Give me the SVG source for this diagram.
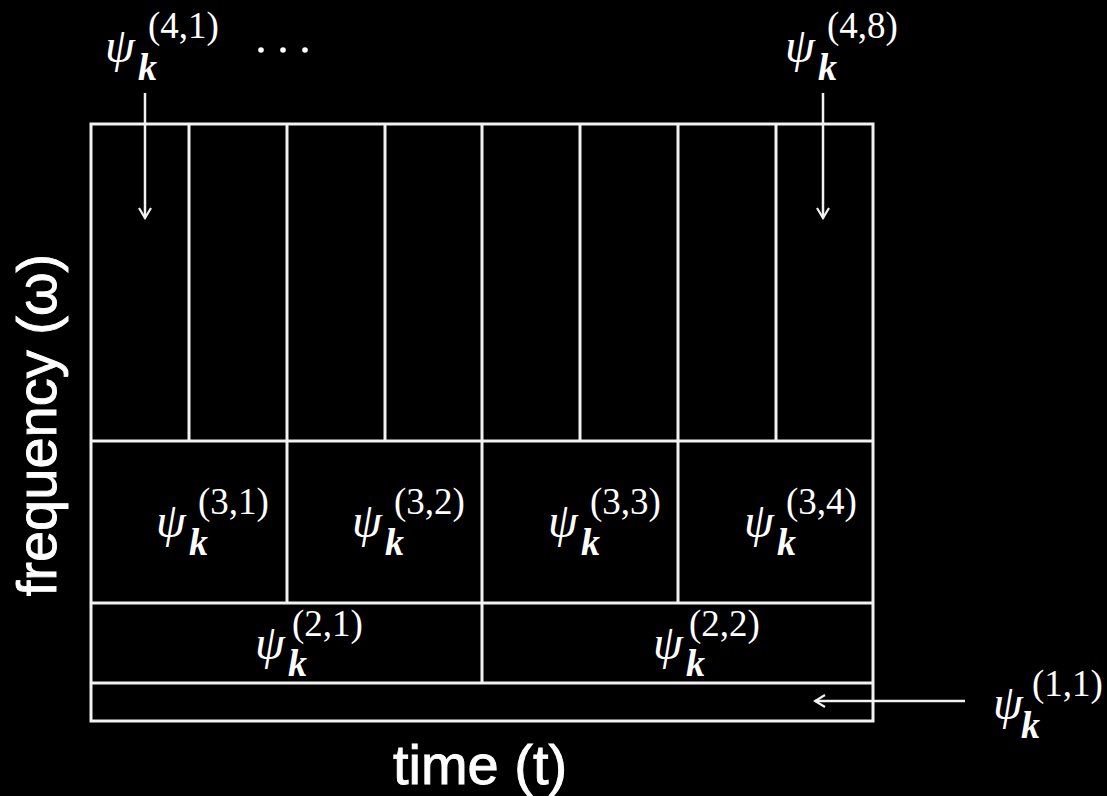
<svg xmlns="http://www.w3.org/2000/svg" width="1107" height="796" viewBox="0 0 1107 796">
<defs>
<style>
.ln{stroke:#f2f2f2;stroke-width:3;fill:none}
.ar{stroke:#f2f2f2;stroke-width:2.5;fill:none}
.psi{font-family:"Liberation Serif",serif;font-style:italic;font-size:48px;fill:#fff}
.k{font-family:"Liberation Serif",serif;font-style:italic;font-weight:bold;font-size:38px;fill:#fff}
.sup{font-family:"Liberation Serif",serif;font-size:37px;fill:#fff}
.ax{font-family:"Liberation Sans",Arial,sans-serif;font-size:56px;fill:#fff;stroke:#fff;stroke-width:0.9}
</style>
<marker id="arr" viewBox="0 0 14 14" refX="12" refY="7" markerWidth="14" markerHeight="14" markerUnits="userSpaceOnUse" orient="auto">
<path d="M2,1 L12,7 L2,13" fill="none" stroke="#f2f2f2" stroke-width="2.2"/>
</marker>
</defs>
<rect width="1107" height="796" fill="#000"/>
<g id="grid">
<rect class="ln" x="91" y="124" width="782" height="597"/>
<line class="ln" x1="91" y1="441" x2="873" y2="441"/>
<line class="ln" x1="91" y1="603" x2="873" y2="603"/>
<line class="ln" x1="91" y1="683" x2="873" y2="683"/>
<line class="ln" x1="189" y1="124" x2="189" y2="441"/>
<line class="ln" x1="287" y1="124" x2="287" y2="603"/>
<line class="ln" x1="385" y1="124" x2="385" y2="441"/>
<line class="ln" x1="482" y1="124" x2="482" y2="683"/>
<line class="ln" x1="580" y1="124" x2="580" y2="441"/>
<line class="ln" x1="678" y1="124" x2="678" y2="603"/>
<line class="ln" x1="776" y1="124" x2="776" y2="441"/>
</g>
<g id="connectors">
<line class="ar" x1="145" y1="93" x2="145" y2="218" marker-end="url(#arr)"/>
<line class="ar" x1="823" y1="93" x2="823" y2="218" marker-end="url(#arr)"/>
<line class="ar" x1="965" y1="701" x2="815" y2="701" marker-end="url(#arr)"/>
</g>
<g id="label-4-1"><text class="psi" x="105" y="62">ψ</text><text class="k" x="138" y="80">k</text><text class="sup" x="148" y="38">(4,1)</text></g>
<g id="dots" fill="#fff"><circle cx="261" cy="50" r="2.8"/><circle cx="283" cy="50" r="2.8"/><circle cx="305" cy="50" r="2.8"/></g>
<g id="label-4-8"><text class="psi" x="785" y="62">ψ</text><text class="k" x="818" y="80">k</text><text class="sup" x="827" y="38">(4,8)</text></g>
<g id="label-3-1"><text class="psi" x="156" y="537">ψ</text><text class="k" x="189" y="555">k</text><text class="sup" x="198" y="514">(3,1)</text></g>
<g id="label-3-2"><text class="psi" x="352" y="537">ψ</text><text class="k" x="385" y="555">k</text><text class="sup" x="394" y="514">(3,2)</text></g>
<g id="label-3-3"><text class="psi" x="548" y="537">ψ</text><text class="k" x="581" y="555">k</text><text class="sup" x="590" y="514">(3,3)</text></g>
<g id="label-3-4"><text class="psi" x="744" y="537">ψ</text><text class="k" x="777" y="555">k</text><text class="sup" x="786" y="514">(3,4)</text></g>
<g id="label-2-1"><text class="psi" x="255" y="659">ψ</text><text class="k" x="288" y="676">k</text><text class="sup" x="292" y="636">(2,1)</text></g>
<g id="label-2-2"><text class="psi" x="653" y="659">ψ</text><text class="k" x="686" y="676">k</text><text class="sup" x="689" y="636">(2,2)</text></g>
<g id="label-1-1"><text class="psi" x="993" y="719">ψ</text><text class="k" x="1021" y="738">k</text><text class="sup" x="1032" y="696">(1,1)</text></g>
<text class="ax" x="480" y="784" text-anchor="middle">time (t)</text>
<text class="ax" transform="translate(56,425) rotate(-90)" text-anchor="middle">frequency (ω)</text>
</svg>
